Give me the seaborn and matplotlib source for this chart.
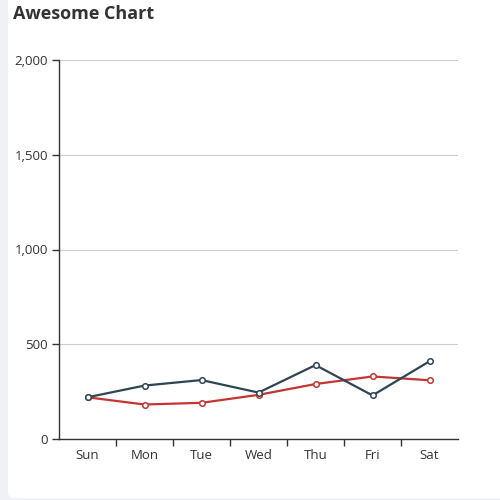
import pandas as pd
import numpy as np
import matplotlib.pyplot as plt
import seaborn as sns
from matplotlib.patches import FancyBboxPatch

sns.set_theme(style="white")
plt.rcParams['font.family'] = ['Open Sans', 'DejaVu Sans']

days = ['Sun', 'Mon', 'Tue', 'Wed', 'Thu', 'Fri', 'Sat']
red_vals = [220, 182, 191, 233, 290, 330, 310]
dark_vals = [220, 282, 311, 245, 390, 230, 410]
y_ticks = [0, 500, 1000, 1500, 2000]

fig = plt.figure(figsize=(5, 5), dpi=100)
fig.patch.set_facecolor('#f0f1f7')
card = FancyBboxPatch((8 / 500, 2 / 500), 1.2, 1.2, boxstyle='round,pad=0,rounding_size=0.012',
                      transform=fig.transFigure, facecolor='white', edgecolor='none', zorder=-5)
fig.patches.append(card)

ax = fig.add_axes([59 / 500, 61 / 500, 399 / 500, 379 / 500])
ax.set_zorder(2)
ax.set_facecolor('none')

# red series first, dark one drawn on top
for vals, col in [(red_vals, '#c23531'), (dark_vals, '#2f4554')]:
    sns.lineplot(x=np.arange(len(days)), y=vals, ax=ax, color=col, linewidth=1.6,
                 marker='o', markersize=4, markerfacecolor='white',
                 markeredgecolor=col, markeredgewidth=1.1, zorder=3)

ax.set_xlim(-0.5, 6.5)
ax.set_ylim(0, 2000)
ax.set_xticks(range(len(days)))
ax.set_xticklabels(days)
# band boundary ticks, not at the axis ends
ax.set_xticks(np.arange(0.5, 6, 1), minor=True)
ax.tick_params(axis='x', which='major', length=0, pad=7, labelsize=9.5, labelcolor='#333333')
ax.tick_params(axis='x', which='minor', length=5, width=1, color='#333333', direction='out', bottom=True)
ax.set_yticks(y_ticks)
ax.set_yticklabels([f'{v:,}' for v in y_ticks])
ax.tick_params(axis='y', length=5, width=1, color='#333333', direction='out', left=True,
               labelsize=9.5, labelcolor='#333333', pad=3)
ax.grid(axis='y', color='#cccccc', linewidth=0.8)
ax.set_xlabel('')
ax.set_ylabel('')

sns.despine(ax=ax, top=True, right=True)
for s in ['left', 'bottom']:
    ax.spines[s].set_color('#333333')
    ax.spines[s].set_linewidth(1)

fig.text(13 / 500, 1 - 14 / 500, 'Awesome Chart', fontsize=13, fontweight='bold',
         color='#333333', va='center', ha='left', zorder=5)

plt.savefig('out.png', dpi=100, facecolor=fig.get_facecolor())
